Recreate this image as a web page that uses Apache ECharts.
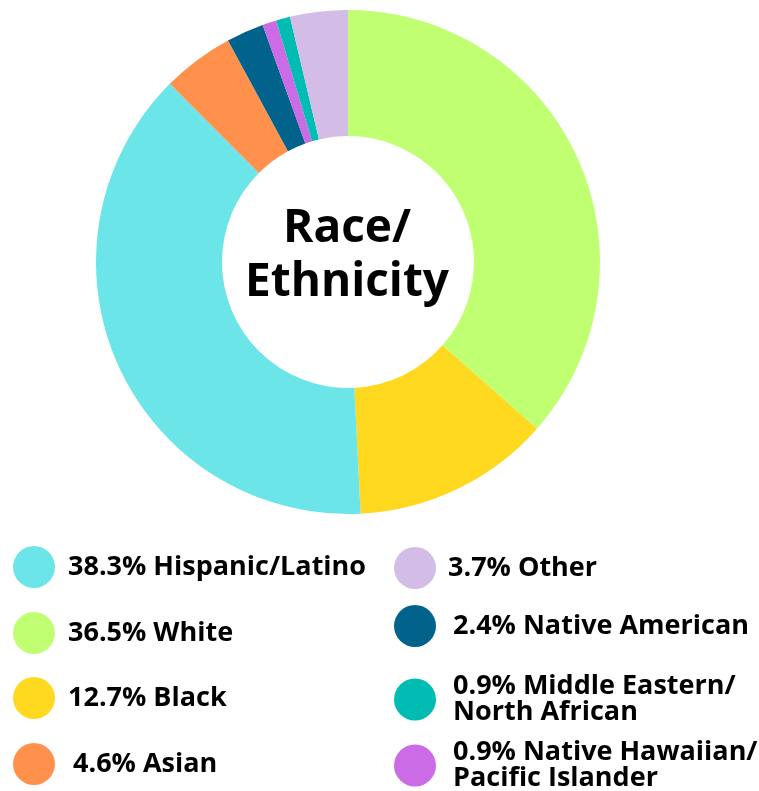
<!DOCTYPE html>
<html>
<head>
<meta charset="utf-8">
<script src="https://cdn.jsdelivr.net/npm/echarts@6/dist/echarts.min.js"></script>
<style>
  html, body { margin: 0; padding: 0; background: #ffffff; }
  #chart { width: 759px; height: 791px; }
</style>
</head>
<body>
<div id="chart"></div>
<script>
// Slices in clockwise order starting from 12 o'clock
const groups = [
  'White', 'Black', 'Hispanic/Latino', 'Asian',
  'Native American', 'Native Hawaiian/Pacific Islander',
  'Middle Eastern/North African', 'Other'
];
const shares = [36.5, 12.7, 38.3, 4.6, 2.4, 0.9, 0.9, 3.7];
const colors = [
  '#c1ff72', '#ffd920', '#6ce5e8', '#ff914d',
  '#01628b', '#cb6ce6', '#00bcb3', '#d3bde6'
];
// Legend wording (line breaks where the label wraps)
const legendText = {
  'Hispanic/Latino': 'Hispanic/Latino',
  'White': 'White',
  'Black': 'Black',
  'Asian': 'Asian',
  'Other': 'Other',
  'Native American': 'Native American',
  'Middle Eastern/North African': 'Middle Eastern/\nNorth African',
  'Native Hawaiian/Pacific Islander': 'Native Hawaiian/\nPacific Islander'
};
// Legend layout: two columns, [name, left, circle centre y, text gap]
const legendLayout = [
  ['Hispanic/Latino', 13, 567, 8],
  ['White', 13, 633, 8],
  ['Black', 13, 698, 8],
  ['Asian', 13, 764, 13],
  ['Other', 394, 568, 7],
  ['Native American', 394, 626, 12],
  ['Middle Eastern/North African', 394, 699, 12],
  ['Native Hawaiian/Pacific Islander', 394, 765, 12]
];

const shareOf = name => shares[groups.indexOf(name)];
const LINE_H = 26;

const legends = legendLayout.map(([name, left, cy, gap]) => {
  const lines = legendText[name].split('\n').length;
  const boxH = Math.max(42, lines * LINE_H);
  return {
    data: [name],
    left: left,
    top: cy - boxH / 2,
    orient: 'vertical',
    icon: 'circle',
    itemWidth: 42,
    itemHeight: 42,
    selectedMode: false,
    padding: 0,
    formatter: n => shareOf(n).toFixed(1) + '% ' + legendText[n],
    textStyle: {
      fontFamily: 'Open Sans',
      fontWeight: 'bold',
      fontSize: 27,
      lineHeight: LINE_H,
      color: '#000000',
      padding: [0, 0, 0, gap]
    }
  };
});

const chart = echarts.init(document.getElementById('chart'), null, { renderer: 'canvas' });
chart.setOption({
  animation: false,
  backgroundColor: '#ffffff',
  color: colors,
  legend: legends,
  graphic: [{
    type: 'text',
    x: 347,
    y: 256,
    style: {
      text: 'Race/\nEthnicity',
      fontFamily: 'Open Sans',
      fontWeight: 'bold',
      fontSize: 46,
      lineHeight: 54,
      fill: '#000000',
      align: 'center',
      verticalAlign: 'middle'
    }
  }],
  series: [{
    type: 'pie',
    center: [348, 262],
    radius: [126, 252],
    startAngle: 90,
    clockwise: true,
    label: { show: false },
    labelLine: { show: false },
    emphasis: { disabled: true },
    itemStyle: { borderWidth: 0 },
    data: groups.map((g, i) => ({ name: g, value: shares[i] }))
  }]
});
</script>
</body>
</html>
